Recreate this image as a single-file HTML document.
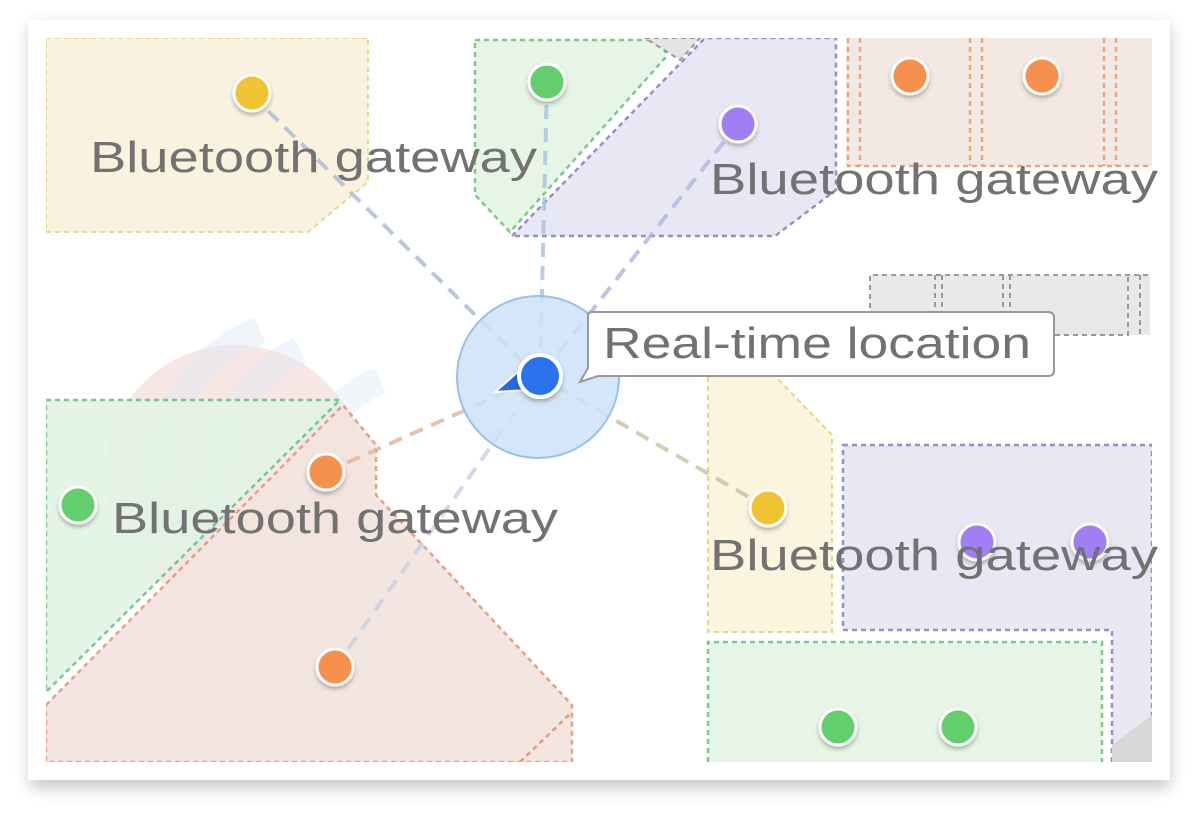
<!DOCTYPE html>
<html><head><meta charset="utf-8"><style>
html,body{margin:0;padding:0;background:#fff;width:1200px;height:819px;overflow:hidden}
</style></head><body>
<svg width="1200" height="819" viewBox="0 0 1200 819" xmlns="http://www.w3.org/2000/svg">
<defs>
<filter id="sh" x="-10%" y="-10%" width="120%" height="125%"><feGaussianBlur stdDeviation="8"/></filter>
<filter id="ds" x="-50%" y="-50%" width="200%" height="200%"><feDropShadow dx="0" dy="3" stdDeviation="2" flood-color="#000" flood-opacity="0.25"/></filter>
<clipPath id="map"><rect x="46" y="38" width="1106" height="724"/></clipPath>
</defs>
<rect x="30" y="26" width="1140" height="762" fill="#000" opacity="0.22" filter="url(#sh)"/>
<rect x="28" y="20" width="1142" height="760" fill="#fff"/>
<g clip-path="url(#map)">
<rect x="46" y="38" width="1106" height="724" fill="#fff"/>
<!-- watermark -->
<circle cx="235" cy="475" r="130" fill="#f3d6d2" opacity="0.6"/>
<path d="M150 560 Q140 380 260 330" fill="none" stroke="#dbe8f4" stroke-width="28" opacity="0.45"/>
<path d="M210 560 Q200 400 300 350" fill="none" stroke="#dbe8f4" stroke-width="28" opacity="0.45"/>
<path d="M290 560 Q290 420 380 380" fill="none" stroke="#dbe8f4" stroke-width="28" opacity="0.4"/>
<!-- top-left yellow -->
<path d="M46 38 H368 V182 L308 232 H46 Z" fill="#f8f2df" stroke="#ead98a" stroke-width="2" stroke-dasharray="5 4"/>
<!-- top green -->
<path d="M475 40 H665 V58 L510 232 L475 195 Z" fill="#e6f5e6" stroke="#7cc98a" stroke-width="2.5" stroke-dasharray="5 4"/>
<path d="M645 38 H700 L680 60 Z" fill="#e4e4e4" stroke="#999" stroke-width="2" stroke-dasharray="5 4"/>
<!-- top purple -->
<path d="M512 236 L705 38 H836 V190 L775 236 Z" fill="#e8e8f4" stroke="#9d8acb" stroke-width="2.5" stroke-dasharray="5 4"/>
<!-- top right orange -->
<rect x="846" y="38" width="306" height="128" fill="#f3e8e3"/>
<g stroke="#eba57a" stroke-width="2.5" stroke-dasharray="5 4" fill="none">
<path d="M848 38 V166 H1152"/><path d="M860 38V166"/><path d="M970 38V166"/><path d="M982 38V166"/><path d="M1104 38V166"/><path d="M1116 38V166"/>
</g>
<!-- gray boxes -->
<rect x="870" y="275" width="280" height="60" fill="#e8e8e8"/>
<g stroke="#999" stroke-width="2" stroke-dasharray="5 4" fill="none">
<path d="M870 335 V275 H1150"/><path d="M935 275V335"/><path d="M942 275V335"/><path d="M1003 275V335"/><path d="M1010 275V335"/><path d="M1010 335 H1128 V275"/><path d="M1140 275V335"/>
</g>
<!-- right yellow -->
<path d="M708 376 H775 L832 435 V632 H708 Z" fill="#fbf5df" stroke="#e8d57e" stroke-width="2" stroke-dasharray="5 4"/>
<!-- right purple -->
<path d="M843 445 H1152 V762 H1112 V630 H843 Z" fill="#e8e8f4" stroke="#9d8acb" stroke-width="2.5" stroke-dasharray="5 4"/>
<path d="M1112 745 L1152 715 V762 H1112 Z" fill="#d8d8d8"/>
<!-- bottom green -->
<path d="M708 762 V642 H1102 V762" fill="#e6f5e6" stroke="#7cc98a" stroke-width="2.5" stroke-dasharray="5 4"/>
<!-- left green -->
<path d="M46 400 H340 L46 692 Z" fill="#e2f4e4" opacity="0.9" stroke="#6cc384" stroke-width="2.5" stroke-dasharray="5 4"/>
<!-- orange region -->
<path d="M46 705 L343 405 L376 445 V495 L572 705 V762 H46 Z" fill="#f3e4de" opacity="0.92" stroke="#e59a7a" stroke-width="2.5" stroke-dasharray="5 4"/>
<path d="M520 762 L572 712" stroke="#e59a7a" stroke-width="2.5" stroke-dasharray="5 4"/>
<!-- connectors -->
<g fill="none" stroke-width="4" stroke-dasharray="14 9" opacity="0.8">
<path d="M252 95 L538 377" stroke="#a9b9d6"/>
<path d="M547 82 L540 377" stroke="#a6c3e0"/>
<path d="M738 124 L540 377" stroke="#b3b3e4"/>
<path d="M326 472 L540 377" stroke="#e2b59a"/>
<path d="M335 667 L540 377" stroke="#c9cfe0"/>
<path d="M768 508 L540 377" stroke="#c8c0a0"/>
</g>
<!-- halo -->
<circle cx="538" cy="377" r="81" fill="#cde2f8" opacity="0.85" stroke="#86b6ea" stroke-width="2"/>
<path d="M520 370 L495 392 L528 390 Z" fill="#2a68e6" stroke="#fff" stroke-width="2"/>
<circle cx="540" cy="376" r="21" fill="#2a73ec" stroke="#fff" stroke-width="4" filter="url(#ds)"/>
<!-- dots -->
<g stroke="#fff" stroke-width="3" filter="url(#ds)">
<circle cx="252" cy="93" r="18" fill="#f0c332"/>
<circle cx="547" cy="82" r="18" fill="#62cf6c"/>
<circle cx="738" cy="124" r="18" fill="#a27ef4"/>
<circle cx="910" cy="76" r="18" fill="#f5904d"/>
<circle cx="1042" cy="76" r="18" fill="#f5904d"/>
<circle cx="78" cy="505" r="18" fill="#62cf6c"/>
<circle cx="326" cy="472" r="18" fill="#f5904d"/>
<circle cx="335" cy="667" r="18" fill="#f5904d"/>
<circle cx="768" cy="508" r="18" fill="#f0c332"/>
<circle cx="977" cy="542" r="18" fill="#a27ef4"/>
<circle cx="1090" cy="542" r="18" fill="#a27ef4"/>
<circle cx="838" cy="727" r="18" fill="#62cf6c"/>
<circle cx="958" cy="727" r="18" fill="#62cf6c"/>
</g>
<!-- label box -->
<path d="M592 312 H1048 Q1054 312 1054 318 V370 Q1054 376 1048 376 H598 L580 382 L588 368 V316 Q588 312 592 312 Z" fill="#fff" stroke="#999" stroke-width="2"/>
</g>
<g font-family="Liberation Sans, sans-serif" font-size="44" fill="#727272">
<text x="90" y="172" textLength="447" lengthAdjust="spacingAndGlyphs">Bluetooth gateway</text>
<text x="710" y="194" textLength="448" lengthAdjust="spacingAndGlyphs">Bluetooth gateway</text>
<text x="112" y="533" textLength="446" lengthAdjust="spacingAndGlyphs">Bluetooth gateway</text>
<text x="710" y="570" textLength="448" lengthAdjust="spacingAndGlyphs">Bluetooth gateway</text>
<text x="603" y="358" textLength="428" lengthAdjust="spacingAndGlyphs">Real-time location</text>
</g>
</svg>
</body></html>
